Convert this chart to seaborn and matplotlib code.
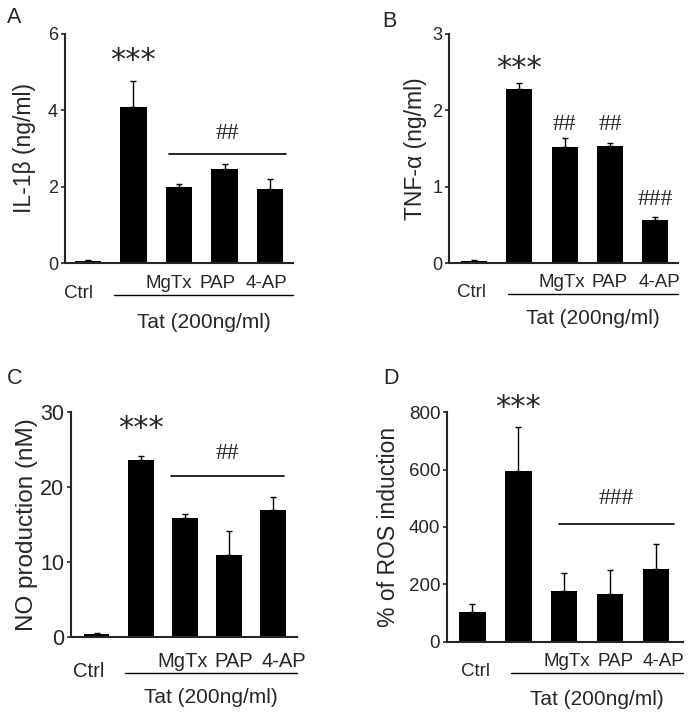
import pandas as pd
import seaborn as sns
import matplotlib.pyplot as plt
from matplotlib.transforms import blended_transform_factory

# groups and data (mean, upper SEM)
groups = ["Ctrl", "Tat", "Tat+MgTx", "Tat+PAP", "Tat+4-AP"]
tick_names = ["Ctrl", "MgTx", "PAP", "4-AP"]

il1b = [0.05, 4.09, 1.99, 2.47, 1.94]
il1b_err = [0.02, 0.67, 0.09, 0.12, 0.27]
tnfa = [0.03, 2.28, 1.52, 1.53, 0.57]
tnfa_err = [0.01, 0.08, 0.12, 0.04, 0.03]
no_prod = [0.3, 23.6, 15.8, 10.9, 16.9]
no_err = [0.15, 0.5, 0.5, 3.2, 1.7]
ros = [102, 594, 177, 166, 255]
ros_err = [31, 156, 63, 83, 87]

sns.set_style("ticks")
plt.rcParams["font.family"] = ["Liberation Sans", "DejaVu Sans"]

fig = plt.figure(figsize=(6.91, 7.17), dpi=100)

panels = [
    dict(letter="A", vals=il1b, errs=il1b_err, ylabel="IL-1β (ng/ml)",
         rect=[0.094, 0.633, 0.330, 0.320], ylim=(0, 6), yticks=[0, 2, 4, 6],
         xlim=(-0.5, 4.5), fs=13, cat_fs=13.5, lab_fs=16.5, lab_x=-0.125,
         cat_x=[-0.2, 1.78, 2.84, 3.93],
         cat_y=-0.087, ctrl_y=-0.131, line_y=-0.14, tat_y=-0.258, tat_x0=0.58,
         stars=5.3, bracket=(1.79, 4.34, 2.86, 3.4, "##"), hashes=[],
         letter_xy=(7, 7)),
    dict(letter="B", vals=tnfa, errs=tnfa_err, ylabel="TNF-α (ng/ml)",
         rect=[0.650, 0.633, 0.331, 0.320], ylim=(0, 3), yticks=[0, 1, 2, 3],
         xlim=(-0.55, 4.5), fs=13, cat_fs=13.5, lab_fs=16.5, lab_x=-0.098,
         cat_x=[-0.06, 1.93, 3.0, 4.09],
         cat_y=-0.083, ctrl_y=-0.126, line_y=-0.135, tat_y=-0.243, tat_x0=0.74,
         stars=2.54, bracket=None,
         hashes=[(2, 1.81, "##"), (3, 1.81, "##"), (4, 0.83, "###")],
         letter_xy=(382, 11)),
    dict(letter="C", vals=no_prod, errs=no_err, ylabel="NO production (nM)",
         rect=[0.103, 0.112, 0.327, 0.314], ylim=(0, 30), yticks=[0, 10, 20, 30],
         xlim=(-0.58, 4.55), fs=15.5, cat_fs=14.5, lab_fs=17.5, lab_x=-0.148,
         cat_x=[-0.19, 1.95, 3.12, 4.25],
         cat_y=-0.11, ctrl_y=-0.154, line_y=-0.161, tat_y=-0.272, tat_x0=0.64,
         stars=27.8, bracket=(1.69, 4.26, 21.4, 24.4, "##"), hashes=[],
         letter_xy=(7, 368)),
    dict(letter="D", vals=ros, errs=ros_err, ylabel="% of ROS induction",
         rect=[0.647, 0.105, 0.342, 0.320], ylim=(0, 800),
         yticks=[0, 200, 400, 600, 800],
         xlim=(-0.55, 4.6), fs=13.5, cat_fs=13.5, lab_fs=16.5, lab_x=-0.2,
         cat_x=[0.08, 2.05, 3.12, 4.16],
         cat_y=-0.086, ctrl_y=-0.129, line_y=-0.136, tat_y=-0.252, tat_x0=0.85,
         stars=815, bracket=(1.89, 4.4, 409, 500, "###"), hashes=[],
         letter_xy=(383, 368)),
]

for p in panels:
    ax = fig.add_axes(p["rect"])
    df = pd.DataFrame({"group": groups, "value": p["vals"]})
    sns.barplot(data=df, x="group", y="value", color="black", saturation=1,
                width=0.58, errorbar=None, linewidth=0, ax=ax)
    ax.errorbar(range(len(groups)), p["vals"],
                yerr=[[0] * len(groups), p["errs"]], fmt="none",
                ecolor="black", elinewidth=1, capsize=2.5, capthick=1)

    ax.set_xlim(p["xlim"])
    ax.set_ylim(p["ylim"])
    ax.set_yticks(p["yticks"])
    ax.set_xticks([])
    ax.set_xlabel("")
    ax.set_ylabel(p["ylabel"], fontsize=p["lab_fs"])
    ax.yaxis.set_label_coords(p["lab_x"], 0.5)
    ax.tick_params(axis="y", labelsize=p["fs"], length=3, width=1.2, pad=2)
    sns.despine(ax=ax)
    for s in ["left", "bottom"]:
        ax.spines[s].set_linewidth(1.5)

    # category labels under the axis (Ctrl sits a bit lower)
    tr = blended_transform_factory(ax.transData, ax.transAxes)
    for i, name in enumerate(tick_names):
        y = p["ctrl_y"] if i == 0 else p["cat_y"]
        ax.text(p["cat_x"][i], y, name, transform=tr, ha="center",
                va="center", fontsize=p["cat_fs"])
    x0, x1 = p["tat_x0"], p["xlim"][1]
    ax.plot([x0, x1], [p["line_y"]] * 2, color="black", lw=1,
            transform=tr, clip_on=False)
    ax.text((x0 + x1) / 2, p["tat_y"], "Tat (200ng/ml)", transform=tr,
            ha="center", va="center", fontsize=15)

    # significance marks
    ax.text(1, p["stars"], "***", ha="center", va="center", fontsize=22,
            family="DejaVu Sans", clip_on=False)
    if p["bracket"]:
        bx0, bx1, by, ty, txt = p["bracket"]
        ax.plot([bx0, bx1], [by, by], color="black", lw=1.2, clip_on=False)
        ax.text((bx0 + bx1) / 2, ty, txt, ha="center", va="center",
                fontsize=17, family="Liberation Serif")
    for hx, hy, txt in p["hashes"]:
        ax.text(hx, hy, txt, ha="center", va="center", fontsize=17,
                family="Liberation Serif")

    fig.text(p["letter_xy"][0] / 691, 1 - p["letter_xy"][1] / 717, p["letter"],
             ha="left", va="top", fontsize=15.5)

fig.savefig("out.png", dpi=100)
